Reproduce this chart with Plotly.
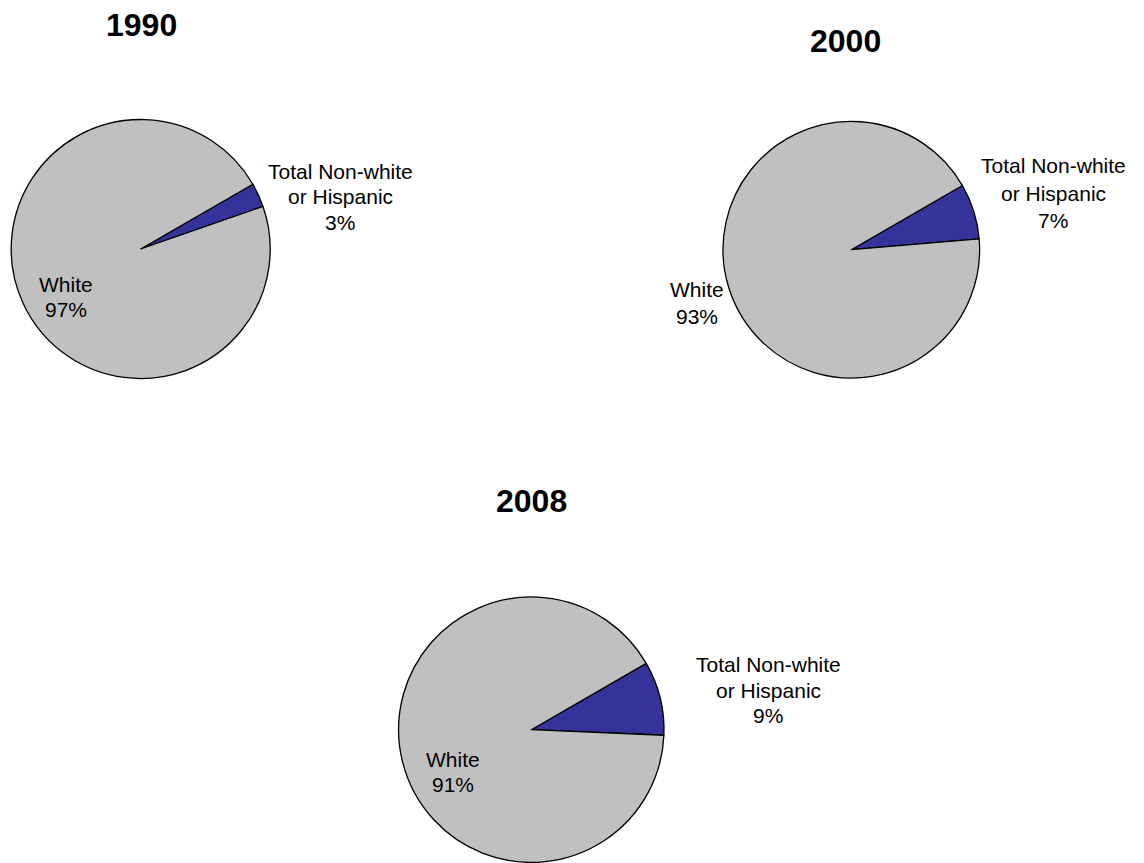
import plotly.graph_objects as go

# ---- data ----
years = ["1990", "2000", "2008"]
categories = ["Total Non-white or Hispanic", "White"]
nonwhite_pct = [3, 7, 9]
white_pct = [97, 93, 91]
nonwhite_label_lines = ["Total Non-white", "or Hispanic"]
white_label_line = "White"

# ---- layout constants (pixels, in page coordinates) ----
OFF = 8  # default page body margin
W, H = 1144 - OFF, 863 - OFF
pie_centers = [(140.7, 249.0), (851.3, 249.7), (531.3, 729.7)]
pie_radii = [129.5, 128.3, 132.7]
title_pos = [(141.2, 24.7), (845.0, 40.7), (531.7, 500.7)]
nw_label_pos = [(340.0, [171.7, 196.8, 222.5]),
                (1053.0, [165.5, 193.8, 220.8]),
                (768.0, [664.8, 690.5, 715.8])]
w_label_pos = [(66.3, [284.2, 309.2]),
               (697.0, [289.2, 316.8]),
               (453.0, [759.2, 784.8])]

FONT = "Liberation Sans, Arial, sans-serif"
colors = ["#333399", "#C0C0C0"]

fig = go.Figure()
annotations = []

def px(x):
    return (x - OFF) / W

def py(y):
    return 1 - (y - OFF) / H

for i, yr in enumerate(years):
    cx, cy = pie_centers[i]
    r = pie_radii[i]
    fig.add_trace(go.Pie(
        labels=categories,
        values=[nonwhite_pct[i], white_pct[i]],
        sort=False,
        direction="clockwise",
        rotation=60,
        marker=dict(colors=colors, line=dict(color="black", width=1.3)),
        textinfo="none",
        hoverinfo="label+percent",
        showlegend=False,
        domain=dict(x=[px(cx - r), px(cx + r)], y=[max(0, py(cy + r)), py(cy - r)]),
    ))
    tx, ty = title_pos[i]
    annotations.append(dict(x=px(tx), y=py(ty), xref="paper", yref="paper",
                            text="<b>%s</b>" % yr, showarrow=False,
                            xanchor="center", yanchor="middle",
                            font=dict(family=FONT, size=32, color="black")))
    lx, lys = nw_label_pos[i]
    lines = nonwhite_label_lines + ["%d%%" % nonwhite_pct[i]]
    for t, ly in zip(lines, lys):
        annotations.append(dict(x=px(lx), y=py(ly), xref="paper", yref="paper",
                                text=t, showarrow=False,
                                xanchor="center", yanchor="middle",
                                font=dict(family=FONT, size=21, color="black")))
    wx, wys = w_label_pos[i]
    wlines = [white_label_line, "%d%%" % white_pct[i]]
    for t, wy in zip(wlines, wys):
        annotations.append(dict(x=px(wx), y=py(wy), xref="paper", yref="paper",
                                text=t, showarrow=False,
                                xanchor="center", yanchor="middle",
                                font=dict(family=FONT, size=21, color="black")))

fig.update_layout(
    width=W, height=H,
    margin=dict(l=0, r=0, t=0, b=0),
    paper_bgcolor="white",
    plot_bgcolor="white",
    annotations=annotations,
    showlegend=False,
)

fig.write_html("out.html")
